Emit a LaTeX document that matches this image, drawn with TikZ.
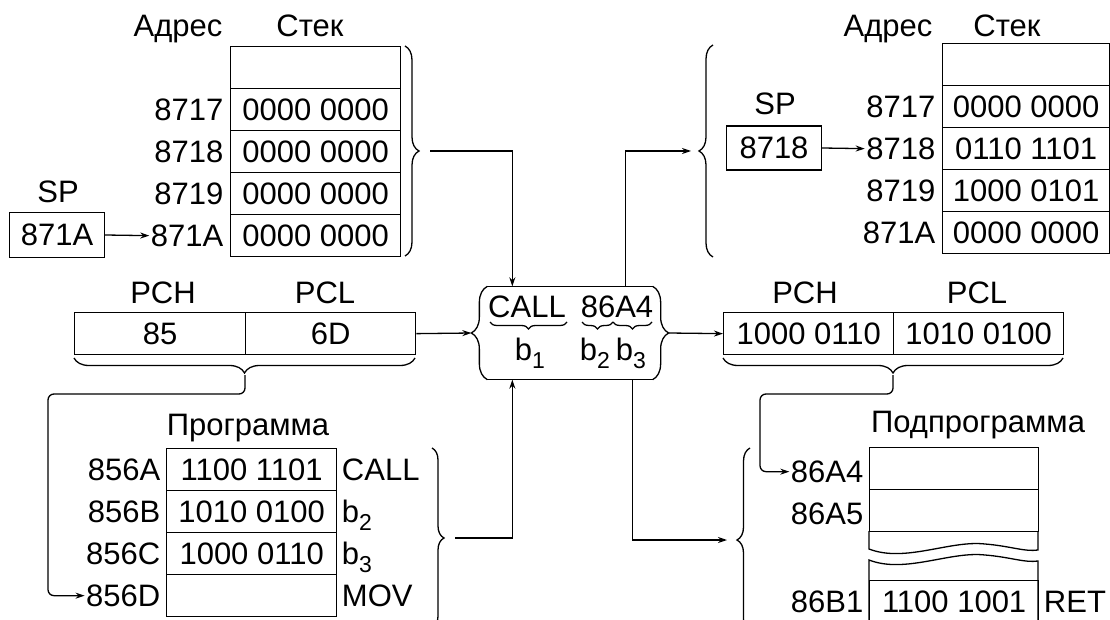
\documentclass[tikz,border=0pt]{standalone}
\usepackage{fontspec}
\setmainfont{Liberation Sans}
\usetikzlibrary{arrows.meta,decorations.pathreplacing,positioning}
\newcommand{\bsub}[1]{b\smash{\raisebox{-8pt}{\fontsize{23}{23}\selectfont #1}}}

\begin{document}
\begin{tikzpicture}[x=1pt,y=-1pt,line width=1.3pt,
    every node/.style={font=\fontsize{31}{36}\selectfont,inner sep=1pt},
    ttl/.style={anchor=base},
    cell/.style={draw,anchor=north west,minimum width=#1,minimum height=42pt,inner sep=0pt},
    cell/.default=170pt,
    box/.style={draw,minimum width=95pt,minimum height=45pt,inner sep=0pt},
    brc/.style={decorate,decoration={brace,amplitude=#1}},
    arr/.style={-{Stealth[length=9pt,width=6pt]}}]
  \useasboundingbox (0,0) rectangle (1110,620);

  % stack before CALL
  \node[ttl] at (178,37) {Адрес}; \node[ttl] at (310,37) {Стек};
  \node[cell] (l0) at (230,46) {};
  \node[cell] (l1) at (230,88) {0000 0000};
  \node[cell] (l2) at (230,130) {0000 0000};
  \node[cell] (l3) at (230,172) {0000 0000};
  \node[cell] (l4) at (230,214) {0000 0000};
  \node[left=5pt of l1] (al1) {8717};
  \node[left=5pt of l2] (al2) {8718};
  \node[left=5pt of l3] (al3) {8719};
  \node[left=5pt of l4] (al4) {871A};
  \node[ttl] at (58,203) {SP};
  \node[box] (spL) at (57,235) {871A};
  \draw[arr] (spL.east) -- (al4.west);
  \draw[brc=14pt] (405,46) -- (405,256);
  \coordinate (ltip) at (430,151);

  % stack after CALL
  \node[ttl] at (888,37) {Адрес}; \node[ttl] at (1007,37) {Стек};
  \node[cell=167pt] (r0) at (942,43) {};
  \node[cell=167pt] (r1) at (942,85) {0000 0000};
  \node[cell=167pt] (r2) at (942,127) {0110 1101};
  \node[cell=167pt] (r3) at (942,169) {1000 0101};
  \node[cell=167pt] (r4) at (942,211) {0000 0000};
  \node[left=5pt of r1] (ar1) {8717};
  \node[left=5pt of r2] (ar2) {8718};
  \node[left=5pt of r3] (ar3) {8719};
  \node[left=5pt of r4] (ar4) {871A};
  \node[ttl] at (775,115) {SP};
  \node[box,minimum height=44pt] (spR) at (774,148) {8718};
  \draw[arr] (spR.east) -- (ar2.west);
  \draw[brc=14pt] (713,257) -- (713,45);
  \coordinate (rtip) at (691,151);

  % program counter
  \node[ttl] at (163,303) {PCH}; \node[ttl] at (325,303) {PCL};
  \node[cell=171pt] (pch) at (74,312) {85};
  \node[cell] (pcl) at (245,312) {6D};
  \draw[brc=15pt] (415,358) -- (74,358);
  \coordinate (lpctip) at (245,375);
  \node[ttl] at (805,303) {PCH}; \node[ttl] at (977,303) {PCL};
  \node[cell] (rpch) at (723,312) {1000 0110};
  \node[cell] (rpcl) at (893,312) {1010 0100};
  \draw[brc=15pt] (1063,358) -- (723,358);
  \coordinate (rpctip) at (893,375);

  % instruction
  \node[minimum width=164pt,minimum height=92pt] (cmd) at (570,333) {};
  \draw (cmd.north west) -- (cmd.north east) (cmd.south west) -- (cmd.south east);
  \draw[brc=16pt] (cmd.south west) -- (cmd.north west);
  \draw[brc=16pt] (cmd.north east) -- (cmd.south east);
  \node[ttl] (op) at (527,317) {CALL}; \node[ttl] (opad) at (617,317) {86A4};
  \draw[brc=7pt] (567,322) -- (490,322);
  \draw[brc=7pt] (613,322) -- (582,322);
  \draw[brc=7pt] (652,322) -- (613,322);
  \node[ttl] at (530,360) {\bsub1}; \node[ttl] at (595,360) {\bsub2};
  \node[ttl] at (631,360) {\bsub3};

  % program
  \node[ttl] at (248,435) {Программа};
  \node[cell] (p1) at (166,448) {1100 1101};
  \node[cell] (p2) at (166,490) {1010 0100};
  \node[cell] (p3) at (166,532) {1000 0110};
  \node[cell] (p4) at (166,574) {};
  \node[left=4pt of p1] (a856A) {856A};
  \node[left=4pt of p2] (a856B) {856B};
  \node[left=4pt of p3] (a856C) {856C};
  \node[left=4pt of p4] (a856D) {856D};
  \node[right=3pt of p1] {CALL};
  \node[right=3pt of p2] {\bsub2};
  \node[right=3pt of p3] {\bsub3};
  \node[right=3pt of p4] {MOV};
  \draw[brc=12pt] (432,448) -- (432,628);
  \coordinate (ptip) at (455,538);

  % subroutine
  \node[ttl] at (978,432) {Подпрограмма};
  \node[cell=169pt] (s1) at (869,447) {};
  \node[cell=169pt] (s2) at (869,489) {};
  \draw (869,531) -- (869,549) .. controls (905,563) and (950,540) .. (985,544)
    .. controls (1010,546) and (1025,552) .. (1038,550) -- (1038,531);
  \draw (869,622) -- (869,560) .. controls (905,574) and (950,551) .. (985,555)
    .. controls (1010,557) and (1025,563) .. (1038,561) -- (1038,622);
  \node[cell=169pt] (s4) at (869,580) {1100 1001};
  \node[left=4pt of s1,yshift=-3pt] (a86A4) {86A4};
  \node[left=4pt of s2,yshift=-3pt] (a86A5) {86A5};
  \node[left=4pt of s4] (a86B1) {86B1};
  \node[right=3pt of s4] {RET};
  \draw[brc=13pt] (750,632) -- (750,448);
  \coordinate (stip) at (727,540);

  % connections
  \draw[arr] (ltip) -| ([xshift=25pt]cmd.north west);
  \draw[arr] ([xshift=-27pt]cmd.north east) |- (rtip);
  \draw[arr] (pcl.east) -- ([xshift=-16pt]cmd.west);
  \draw[arr] ([xshift=16pt]cmd.east) -- (rpch.west);
  \draw[arr] (ptip) -| ([xshift=25pt]cmd.south west);
  \draw[arr] ([xshift=-20pt]cmd.south east) |- (stip);
  \draw[arr,rounded corners=6pt] (lpctip) |- (48,394) |- (a856D.west);
  \draw[arr,rounded corners=6pt] (rpctip) |- (760,394) |- (a86A4.west);
\end{tikzpicture}
\end{document}
